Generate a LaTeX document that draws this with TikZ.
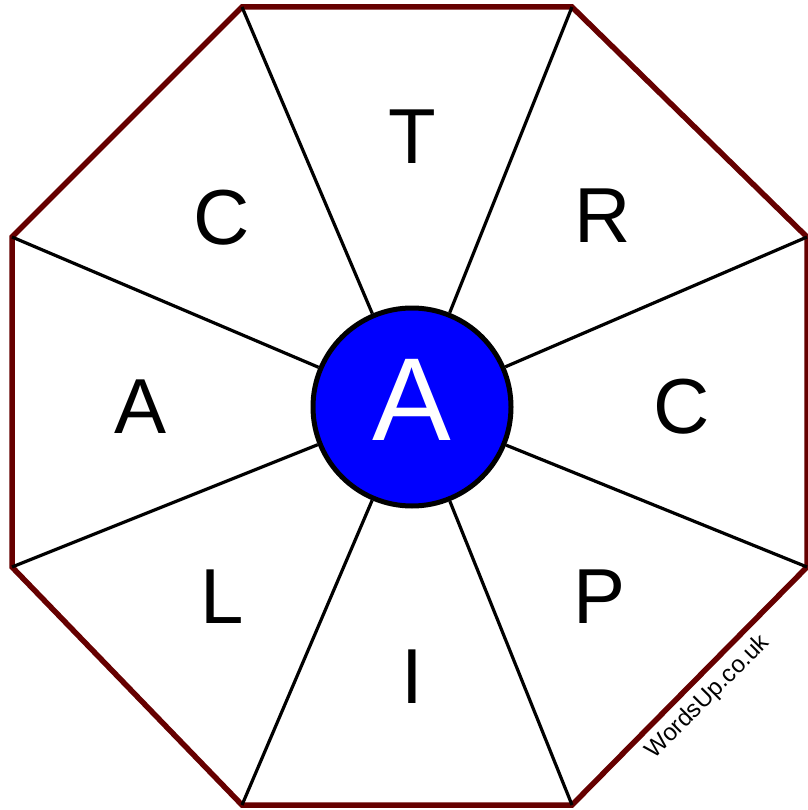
\documentclass[tikz,border=0pt]{standalone}
\usepackage{fontspec}
\setmainfont{Liberation Sans}
\definecolor{rimred}{HTML}{660000}
\definecolor{hubblue}{HTML}{0000FF}
\begin{document}
\begin{tikzpicture}[x=1pt,y=-1pt,
  rim/.style={draw=rimred,line width=5.5pt,line join=miter},
  spoke/.style={draw=black,line width=3.2pt},
  hubnode/.style={circle,draw=black,fill=hubblue,line width=5pt,minimum size=198pt,inner sep=0pt,text=white,font=\fontsize{118}{118}\selectfont},
  letter/.style={inner sep=0pt,font=\fontsize{78}{78}\selectfont}]
  \useasboundingbox (0,0) rectangle (807,810);
  % rim corners
  \coordinate (v1) at (242,7);
  \coordinate (v2) at (572,7);
  \coordinate (v3) at (807,237);
  \coordinate (v4) at (807,567);
  \coordinate (v5) at (572,805);
  \coordinate (v6) at (242,805);
  \coordinate (v7) at (12,567);
  \coordinate (v8) at (12,237);
  \draw[rim] (v1) -- (v2) -- (v3) -- (v4) -- (v5) -- (v6) -- (v7) -- (v8) -- cycle;
  \node[hubnode] (hub) at (412,407){\raisebox{14pt}{A}};
  \foreach \v in {1,...,8}
    \draw[spoke] (hub) -- (v\v);
  % outer letters
  \node[letter] (l1) at (412,137){T};
  \node[letter] (l2) at (603,216){R};
  \node[letter] (l3) at (682,407){C};
  \node[letter] (l4) at (600,597){P};
  \node[letter] (l5) at (412,677){I};
  \node[letter] (l6) at (222,597){L};
  \node[letter] (l7) at (141,407){A};
  \node[letter] (l8) at (222,218){C};
  \node[rotate=45,inner sep=0pt,font=\fontsize{24}{24}\selectfont] (mark) at (708,697){WordsUp.co.uk};
\end{tikzpicture}
\end{document}
